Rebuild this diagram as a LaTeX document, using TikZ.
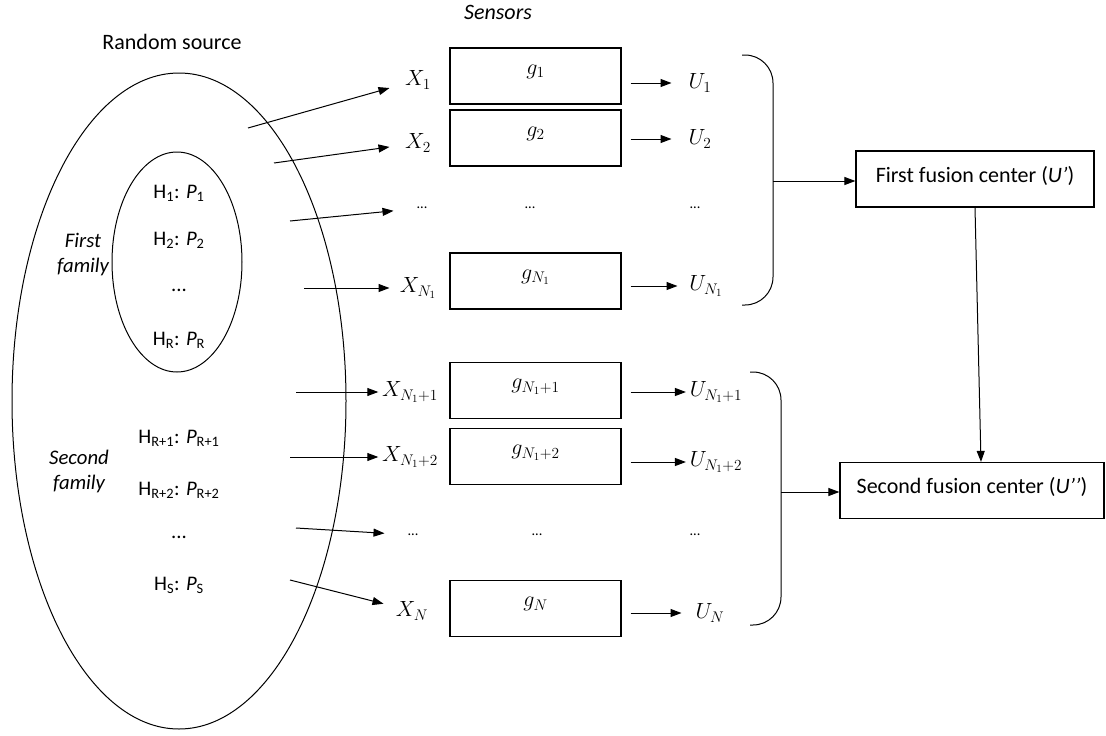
\documentclass[tikz,border=0pt]{standalone}
\usepackage{fix-cm}
\usepackage{fontspec}
\setmainfont{Carlito}
\usetikzlibrary{arrows.meta}

\begin{document}
\begin{tikzpicture}[x=1pt,y=-1pt,
    every node/.style={font=\fontsize{22}{26}\selectfont},
    >={Triangle[length=11pt,width=8pt]},
    line width=1pt,
    gbox/.style={draw,line width=1.2pt,minimum width=171pt,minimum height=56pt,text depth=13pt},
    fbox/.style={draw,line width=1.2pt,minimum height=56pt,text depth=10pt},
    lab/.style={minimum width=56pt},
    hyp/.style={font=\huge},
    dots/.style={font=\Large}
]
\useasboundingbox (0,0) rectangle (1106,736);

\node (src) at (172,42) {Random source};
\node[font=\fontsize{22}{26}\selectfont\itshape] (sens) at (498,12) {Sensors};

\draw (179,401) ellipse [x radius=167, y radius=328];
\draw (177,262) ellipse [x radius=65, y radius=110];

\node[font=\huge\itshape,align=center] (fam1) at (83,255) {First\\family};
\node[font=\huge\itshape,align=center] (fam2) at (79,471) {Second\\family};

\node[hyp] (hyp1) at (179,193) {H\textsubscript{1}: \textit{P}\textsubscript{1}};
\node[hyp] (hyp2) at (179,240) {H\textsubscript{2}: \textit{P}\textsubscript{2}};
\node[hyp] (hypd) at (179,290) {...};
\node[hyp] (hypr) at (179,340) {H\textsubscript{R}: \textit{P}\textsubscript{R}};
\node[hyp] (hyps1) at (179,438) {H\textsubscript{R+1}: \textit{P}\textsubscript{R+1}};
\node[hyp] (hyps2) at (179,490) {H\textsubscript{R+2}: \textit{P}\textsubscript{R+2}};
\node[hyp] (hypsd) at (179,537) {...};
\node[hyp] (hyps) at (179,585) {H\textsubscript{S}: \textit{P}\textsubscript{S}};

\coordinate (s1) at (248,128);
\coordinate (s2) at (274,163);
\coordinate (s3) at (290,221);
\coordinate (s4) at (304,288);
\coordinate (s5) at (296,392);
\coordinate (s6) at (290,457);
\coordinate (s7) at (296,528);
\coordinate (s8) at (290,580);

\node[lab] (x1) at (418,80) {$X_1$};
\node[lab] (x2) at (418,143) {$X_2$};
\node[lab,dots] (x3) at (422,208) {...};
\node[lab] (x4) at (418,288) {$X_{N_1}$};
\node[lab] (x5) at (410,392) {$X_{N_1+1}$};
\node[lab] (x6) at (410,457) {$X_{N_1+2}$};
\node[lab,dots] (x7) at (413,535) {...};
\node[lab] (x8) at (412,611) {$X_N$};

\node[gbox] (g1) at (535.5,76) {$g_1$};
\node[gbox] (g2) at (535.5,138) {$g_2$};
\node[dots] (g3) at (530,208) {...};
\node[gbox] (g4) at (535.5,281) {$g_{N_1}$};
\node[gbox] (g5) at (535.5,390.5) {$g_{N_1+1}$};
\node[gbox] (g6) at (535.5,456.5) {$g_{N_1+2}$};
\node[dots] (g7) at (537,535) {...};
\node[gbox] (g8) at (535.5,608.5) {$g_N$};

\node[lab] (u1) at (700,83) {$U_1$};
\node[lab] (u2) at (700,139) {$U_2$};
\node[dots] (u3) at (695,208) {...};
\node[lab] (u4) at (706,286) {$U_{N_1}$};
\node[lab] (u5) at (716,392) {$U_{N_1+1}$};
\node[lab] (u6) at (716,462) {$U_{N_1+2}$};
\node[dots] (u7) at (695,535) {...};
\node[lab] (u8) at (710,613) {$U_N$};

\draw[->] (s1) -- (x1);
\draw[->] (s2) -- (x2);
\draw[->] (s3) -- (x3);
\draw[->] (s4) -- (x4);
\draw[->] (s5) -- (x5);
\draw[->] (s6) -- (x6);
\draw[->] (s7) -- (x7);
\draw[->] (s8) -- (x8);

\foreach \i in {1,2,4,5,6,8}
  \draw[->,shorten <=9pt] (g\i.east |- u\i) -- (u\i.west);

\node[fbox,minimum width=238pt] (fc1) at (975,179) {First fusion center (\textit{U’})};
\node[fbox,minimum width=264pt] (fc2) at (972,490.5) {Second fusion center (\textit{U’’})};

\draw[rounded corners=28pt] (742,55) -- (773,55) -- (773,305) -- (742,305);
\draw[rounded corners=28pt] (750,372) -- (781,372) -- (781,625) -- (750,625);
\coordinate (b1) at (773,181);
\coordinate (b2) at (781,492);

\draw[->] (b1) -- (b1 -| fc1.west);
\draw[->] (b2) -- (b2 -| fc2.west);
\draw[->] (fc1.south) -- ([xshift=9pt]fc2.north);

\end{tikzpicture}
\end{document}
